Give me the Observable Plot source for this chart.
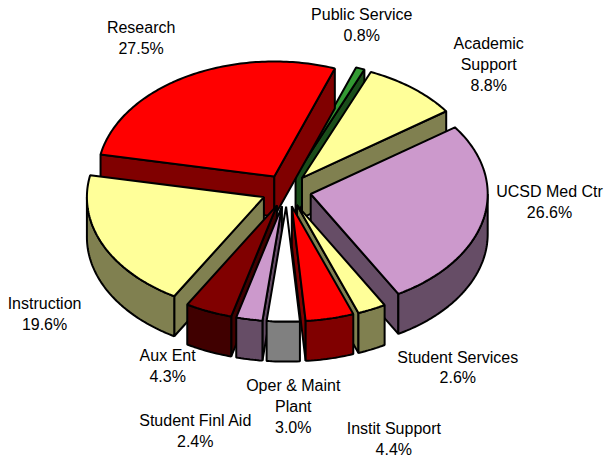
<!DOCTYPE html>
<html>
<head>
<meta charset="utf-8">
<script src="https://cdn.jsdelivr.net/npm/d3@7"></script>
<script src="https://cdn.jsdelivr.net/npm/@observablehq/plot@0.6"></script>
<style>html,body{margin:0;padding:0;background:#fff}svg{display:block}</style>
</head>
<body>
<div id="chart"></div>
<script>
// Data, clockwise from the slice nearest the top
const categories = ["Public Service","Academic\nSupport","UCSD Med Ctr","Student Services","Instit Support","Oper & Maint\nPlant","Student Finl Aid","Aux Ent","Instruction","Research"];
const shares = [0.8,8.8,26.6,2.6,4.4,3.0,2.4,4.3,19.6,27.5];
const topColors = ["#339933","#ffff99","#cc99cc","#ffff99","#ff0000","#ffffff","#cc99cc","#800000","#ffff99","#ff0000"];
const wallColors = ["#1a4d1a","#808050","#664d66","#808050","#800000","#808080","#664d66","#400000","#808050","#800000"];
// Label placement relative to each slice's outer midpoint
const labelNudgeX = [1.5,76,66,86,64,10,-54,-41,-58,-46];
const labelNudgeY = [-45,-25,-18,57,119,84,110,53.5,68,-40];

// Pie geometry
const cx = 286, cy = 190, rx = 177, ry = 115, depth = 40, explode = 0.14, startDeg = 20;
const rad = d => d * Math.PI / 180;
const at = (deg, k) => [cx + k * rx * Math.sin(rad(deg)), cy - k * ry * Math.cos(rad(deg))];

let cum = 0;
const slices = shares.map((v, i) => {
  const a0 = startDeg + cum * 3.6; cum += v;
  const a1 = startDeg + cum * 3.6;
  const mid = (a0 + a1) / 2;
  const ox = explode * rx * Math.sin(rad(mid)), oy = -explode * ry * Math.cos(rad(mid));
  const pt = (deg, k, dz = 0) => { const p = at(deg, k); return [p[0] + ox, p[1] + oy + dz]; };
  return {i, a0, a1, mid, pt};
});

const points = [];
const poly = (id, color, pts) => pts.forEach(p => points.push({id, color, x: p[0], y: p[1]}));
const order = d3.sort(slices, s => -Math.cos(rad(s.mid)));
order.forEach(s => {
  const tip = s.pt(0, 0);
  const tipLow = s.pt(0, 0, depth);
  const wall = wallColors[s.i];
  // Only the radial faces turned towards the viewer are drawn
  if (Math.sin(rad(s.a0)) < 0) poly(`${s.i}-r0`, wall, [tip, s.pt(s.a0, 1), s.pt(s.a0, 1, depth), tipLow]);
  if (Math.sin(rad(s.a1)) > 0) poly(`${s.i}-r1`, wall, [tip, s.pt(s.a1, 1), s.pt(s.a1, 1, depth), tipLow]);
  const f0 = Math.max(s.a0, 90), f1 = Math.min(s.a1, 270);
  if (f1 > f0) {
    const arc = d3.range(f0, f1, 1).concat([f1]);
    poly(`${s.i}-o`, wall, arc.map(a => s.pt(a, 1)).concat(arc.slice().reverse().map(a => s.pt(a, 1, depth))));
  }
  const arc = d3.range(s.a0, s.a1, 1).concat([s.a1]);
  poly(`${s.i}-t`, topColors[s.i], [tip].concat(arc.map(a => s.pt(a, 1))));
});

const labels = slices.map(s => {
  const p = at(s.mid, 1 + explode);
  return {
    text: `${categories[s.i]}\n${shares[s.i].toFixed(1)}%`,
    x: p[0] + labelNudgeX[s.i],
    y: p[1] + labelNudgeY[s.i]
  };
});

const chart = Plot.plot({
  width: 606, height: 457,
  margin: 0,
  style: {background: "#fff"},
  x: {domain: [0, 606], range: [0, 606], axis: null},
  y: {domain: [0, 457], range: [0, 457], axis: null},
  color: {type: "identity"},
  marks: [
    Plot.line(points, {x: "x", y: "y", z: "id", fill: "color", stroke: "#000", strokeWidth: 2, curve: "linear-closed", strokeLinejoin: "miter"}),
    Plot.text(labels, {x: "x", y: "y", text: "text", fontFamily: "'Liberation Sans', Arial, sans-serif", fontSize: 16, lineHeight: 1.31, fill: "#000"})
  ]
});
document.getElementById("chart").appendChild(chart);
</script>
</body>
</html>
